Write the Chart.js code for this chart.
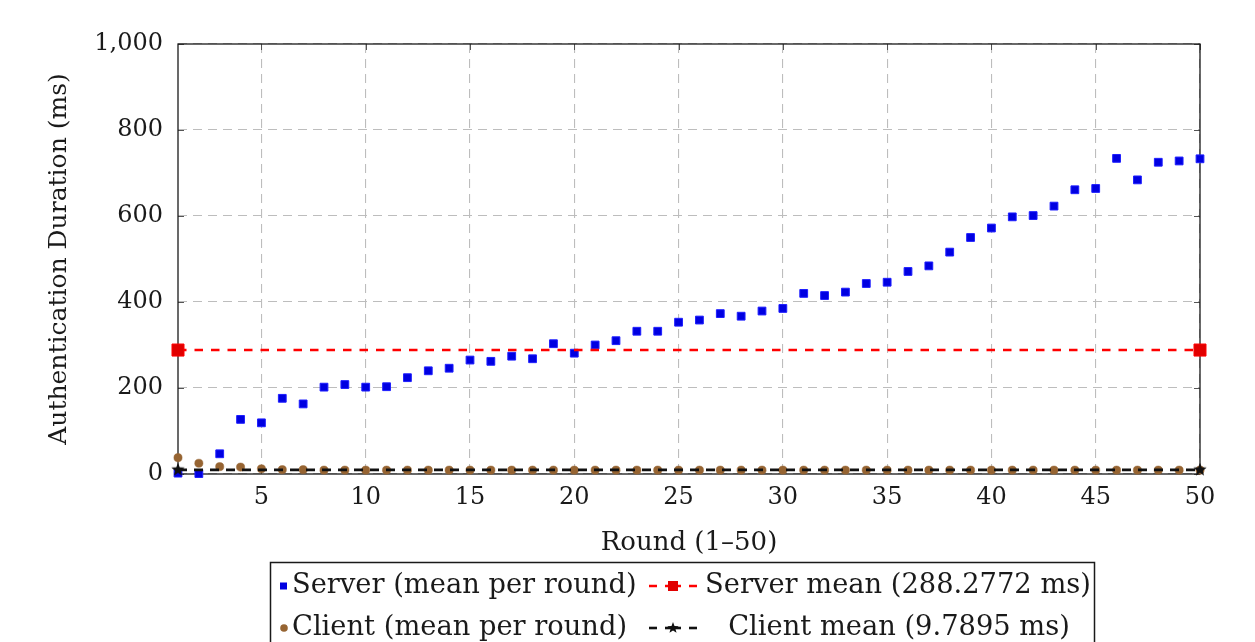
<!DOCTYPE html>
<html>
<head>
<meta charset="utf-8">
<script src="https://cdn.jsdelivr.net/npm/chart.js@4.4.1/dist/chart.umd.min.js"></script>
<style>
  html, body { margin: 0; padding: 0; background: #ffffff; }
  #wrap { width: 1255px; height: 642px; position: relative; }
</style>
</head>
<body>
<div id="wrap"><canvas id="c" width="1255" height="642"></canvas></div>
<script>
// ---------- data ----------
const rounds = [1,2,3,4,5,6,7,8,9,10,11,12,13,14,15,16,17,18,19,20,21,22,23,24,25,26,27,28,29,30,31,32,33,34,35,36,37,38,39,40,41,42,43,44,45,46,47,48,49,50];
const serverMs = [2,1,47,127,119,176,163,202,208,202,203,224,240,246,265,262,274,268,303,281,300,310,332,332,353,358,373,367,379,385,420,415,423,443,446,471,484,516,550,572,598,601,623,661,664,734,684,725,728,733];
const clientMs = [38,25,17,16,12,10,10,9,9,9,9,9,9,9,9,9,9,9,9,9,9,9,9,9,9,9,9,9,9,9,9,9,9,9,9,9,9,9,9,9,9,9,9,9,9,9,9,9,9,9];
const serverMean = 288.2772;
const clientMean = 9.7895;
const meanRounds = [1, 50];
const xTicks = [5,10,15,20,25,30,35,40,45,50];
const yTicks = [0,200,400,600,800,1000];
const seriesLabels = ['Server (mean per round)', 'Server mean (288.2772 ms)', 'Client (mean per round)', 'Client mean (9.7895 ms)'];
const xTitle = 'Round (1–50)';
const yTitle = 'Authentication Duration (ms)';

// ---------- styles ----------
const FONT = '"DejaVu Serif", serif';
const BLUE = 'rgb(0,0,225)';
const RED = 'rgb(255,0,0)';
const DARKRED = 'rgb(225,0,0)';
const BROWN = 'rgb(150,100,50)';
const BLACK = '#111111';

function makeStar(size, color) {
  const c = document.createElement('canvas');
  c.width = size; c.height = size;
  const g = c.getContext('2d');
  const cx = size / 2, cy = size / 2, R = size / 2, r = R * 0.42;
  g.beginPath();
  for (let i = 0; i < 10; i++) {
    const ang = -Math.PI / 2 + i * Math.PI / 5;
    const rr = i % 2 === 0 ? R : r;
    const px = cx + rr * Math.cos(ang), py = cy + rr * Math.sin(ang);
    if (i === 0) g.moveTo(px, py); else g.lineTo(px, py);
  }
  g.closePath();
  g.fillStyle = color;
  g.fill();
  return c;
}
const starImg = makeStar(14, BLACK);

const toPts = (xs, ys) => xs.map((x, i) => ({ x: x, y: ys[i] }));

const framePlugin = {
  id: 'frame',
  beforeDatasetsDraw(chart) {
    const { ctx, chartArea: a, scales: { x, y } } = chart;
    ctx.save();
    ctx.strokeStyle = '#555';
    ctx.lineWidth = 1;
    const seg = (x1, y1, x2, y2) => { ctx.beginPath(); ctx.moveTo(x1, y1); ctx.lineTo(x2, y2); ctx.stroke(); };
    y.ticks.forEach(t => {
      const py = Math.round(y.getPixelForValue(t.value)) + 0.5;
      seg(a.left, py, a.left + 6, py);
      seg(a.right - 6, py, a.right, py);
    });
    x.ticks.forEach(t => {
      const px = Math.round(x.getPixelForValue(t.value)) + 0.5;
      seg(px, a.bottom, px, a.bottom - 6);
      seg(px, a.top, px, a.top + 6);
    });
    ctx.strokeStyle = '#1a1a1a';
    ctx.lineWidth = 1.3;
    ctx.strokeRect(a.left, a.top, a.right - a.left, a.bottom - a.top);
    ctx.restore();
  }
};

const legendPlugin = {
  id: 'texLegend',
  afterDraw(chart) {
    const ctx = chart.ctx;
    const ds = chart.data.datasets;
    ctx.save();
    ctx.strokeStyle = '#1a1a1a';
    ctx.lineWidth = 1.5;
    ctx.strokeRect(270.5, 562.5, 824, 120);
    ctx.font = '27.3px ' + FONT;
    ctx.fillStyle = '#1a1a1a';
    ctx.textBaseline = 'middle';
    const rowY = [586, 628];

    // column 1 markers
    ctx.fillStyle = ds[0].backgroundColor;
    ctx.fillRect(280, rowY[0] - 3.5, 7, 7);
    ctx.fillStyle = ds[2].backgroundColor;
    ctx.beginPath(); ctx.arc(284, rowY[1], 3.8, 0, Math.PI * 2); ctx.fill();

    // column 1 text
    ctx.fillStyle = '#1a1a1a';
    ctx.textAlign = 'left';
    ctx.fillText(ds[0].label, 292, rowY[0]);
    ctx.fillText(ds[2].label, 292, rowY[1]);

    // column 2 line samples
    const sample = (y, color, lw) => {
      ctx.strokeStyle = color; ctx.lineWidth = lw;
      ctx.beginPath(); ctx.moveTo(649, y); ctx.lineTo(657, y); ctx.stroke();
      ctx.beginPath(); ctx.moveTo(665, y); ctx.lineTo(681, y); ctx.stroke();
      ctx.beginPath(); ctx.moveTo(689, y); ctx.lineTo(697, y); ctx.stroke();
    };
    sample(rowY[0], ds[1].borderColor, 2.5);
    ctx.fillStyle = ds[1].pointBackgroundColor;
    ctx.fillRect(668, rowY[0] - 5, 10, 10);
    sample(rowY[1], ds[3].borderColor, 2.6);
    ctx.drawImage(makeStar(12, BLACK), 667, rowY[1] - 6);

    // column 2 text (centered)
    ctx.fillStyle = '#1a1a1a';
    ctx.textAlign = 'center';
    ctx.fillText(ds[1].label, 898, rowY[0]);
    ctx.fillText(ds[3].label, 899, rowY[1]);
    ctx.restore();
  }
};

new Chart(document.getElementById('c'), {
  type: 'line',
  data: {
    datasets: [
      {
        label: seriesLabels[0],
        data: toPts(rounds, serverMs),
        showLine: false,
        pointStyle: 'rect',
        pointRadius: 5.5,
        pointHoverRadius: 5.5,
        backgroundColor: BLUE,
        borderColor: 'rgb(30,30,255)',
        pointBorderWidth: 1,
        order: 4,
        clip: false
      },
      {
        label: seriesLabels[1],
        data: toPts(meanRounds, [serverMean, serverMean]),
        borderColor: RED,
        borderWidth: 2.6,
        borderDash: [8.5, 8],
        pointStyle: 'rect',
        pointRadius: 8.5,
        pointHoverRadius: 8.5,
        pointBackgroundColor: DARKRED,
        pointBorderColor: RED,
        pointBorderWidth: 1,
        order: 3,
        clip: false
      },
      {
        label: seriesLabels[2],
        data: toPts(rounds, clientMs),
        showLine: false,
        pointStyle: 'circle',
        pointRadius: 4.1,
        pointHoverRadius: 4.1,
        backgroundColor: BROWN,
        borderColor: BROWN,
        pointBorderWidth: 0.5,
        order: 2,
        clip: false
      },
      {
        label: seriesLabels[3],
        data: toPts(meanRounds, [clientMean, clientMean]),
        borderColor: BLACK,
        borderWidth: 2.8,
        borderDash: [9, 7],
        pointStyle: starImg,
        pointRadius: 7,
        pointBackgroundColor: BLACK,
        order: 1,
        clip: false
      }
    ]
  },
  options: {
    responsive: false,
    animation: false,
    events: [],
    layout: { padding: { left: 0, right: 55, top: 44, bottom: 82 } },
    plugins: {
      legend: { display: false },
      tooltip: { enabled: false }
    },
    scales: {
      x: {
        type: 'linear',
        min: 1,
        max: 50,
        afterBuildTicks: (s) => { s.ticks = xTicks.map(v => ({ value: v })); },
        afterFit: (s) => { s.height = 86; },
        grid: {
          color: '#bdbdbd',
          lineWidth: 1.1,
          drawTicks: false
        },
        border: { display: false, dash: [9, 6] },
        ticks: {
          color: '#1a1a1a',
          font: { family: FONT, size: 24 },
          padding: 9,
          maxRotation: 0,
          autoSkip: false
        },
        title: {
          display: true,
          text: xTitle,
          color: '#1a1a1a',
          font: { family: FONT, size: 26 },
          padding: { top: 0, bottom: 1 }
        }
      },
      y: {
        type: 'linear',
        min: 0,
        max: 1000,
        afterBuildTicks: (s) => { s.ticks = yTicks.map(v => ({ value: v })); },
        afterFit: (s) => { s.width = 178; },
        grid: {
          color: '#bdbdbd',
          lineWidth: 1.1,
          drawTicks: false
        },
        border: { display: false, dash: [9, 6] },
        ticks: {
          color: '#1a1a1a',
          font: { family: FONT, size: 24 },
          padding: 15,
          callback: (v) => Number(v).toLocaleString('en-US')
        },
        title: {
          display: true,
          text: yTitle,
          color: '#1a1a1a',
          font: { family: FONT, size: 25 },
          padding: { top: 44, bottom: 0 }
        }
      }
    }
  },
  plugins: [framePlugin, legendPlugin]
});
</script>
</body>
</html>
